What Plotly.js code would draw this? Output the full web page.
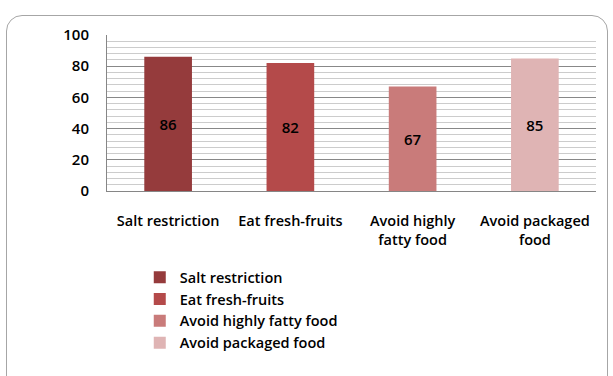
<!DOCTYPE html>
<html>
<head>
<meta charset="utf-8">
<script src="https://cdn.plot.ly/plotly-3.0.1.min.js"></script>
<style>
  html, body { margin: 0; padding: 0; background: #ffffff; }
  #wrap { position: relative; width: 613px; height: 376px; overflow: hidden; }
  #frame { position: absolute; left: 6px; top: 15px; width: 602px; height: 400px;
           border: 1.5px solid #a6a6a6; border-radius: 16px; box-sizing: border-box; }
  #chart { position: absolute; left: 0; top: 0; width: 613px; height: 376px; }
</style>
</head>
<body>
<div id="wrap">
  <div id="frame"></div>
  <div id="chart"></div>
</div>
<script>
const categories = ["Salt restriction", "Eat fresh-fruits", "Avoid highly fatty food", "Avoid packaged food"];
const tickLabels = ["Salt restriction", "Eat fresh-fruits", "Avoid highly<br>fatty food", "Avoid packaged<br>food"];
const values = [86, 82, 67, 85];
const colors = ["#953b3c", "#b44a4a", "#c97b7a", "#dfb4b4"];

const FONT = "'Open Sans', 'Liberation Sans', sans-serif";

const traces = categories.map((c, i) => ({
  type: "bar",
  name: c,
  x: [c],
  y: [values[i]],
  text: [String(values[i])],
  textposition: "inside",
  insidetextanchor: "middle",
  textangle: 0,
  textfont: { family: FONT, size: 15, color: "#000000", weight: 600 },
  marker: { color: colors[i], line: { width: 0 } },
  width: 0.39,
  legendgroup: "g" + i,
  hoverinfo: "skip"
}));

const layout = {
  width: 613,
  height: 376,
  margin: { l: 107, r: 17, t: 35, b: 185 },
  paper_bgcolor: "rgba(0,0,0,0)",
  plot_bgcolor: "#ffffff",
  barmode: "overlay",
  showlegend: true,
  font: { family: FONT, size: 14, color: "#000000" },
  xaxis: {
    type: "category",
    categoryarray: categories,
    tickvals: categories,
    ticktext: tickLabels,
    showgrid: false,
    showline: true,
    linecolor: "#868686",
    linewidth: 1,
    ticks: "",
    ticklabelstandoff: 17,
    tickfont: { family: FONT, size: 14.5, color: "#000000", weight: 600 },
    zeroline: false,
    fixedrange: true
  },
  yaxis: {
    range: [0, 100],
    dtick: 20,
    tick0: 0,
    showline: true,
    linecolor: "#868686",
    linewidth: 1,
    showgrid: true,
    gridcolor: "#888888",
    gridwidth: 1,
    minor: { dtick: 4, showgrid: true, gridcolor: "#cccccc", gridwidth: 1 },
    zeroline: false,
    ticks: "",
    ticklabelstandoff: 14,
    tickfont: { family: FONT, size: 15, color: "#000000", weight: 600 },
    fixedrange: true
  },
  legend: {
    orientation: "v",
    x: 0.067,
    xanchor: "left",
    y: -0.45,
    yanchor: "top",
    bgcolor: "rgba(0,0,0,0)",
    font: { family: FONT, size: 14.5, color: "#000000", weight: 600 },
    tracegroupgap: 2,
    traceorder: "normal"
  }
};

Plotly.newPlot("chart", traces, layout, { displayModeBar: false, staticPlot: true });
</script>
</body>
</html>
